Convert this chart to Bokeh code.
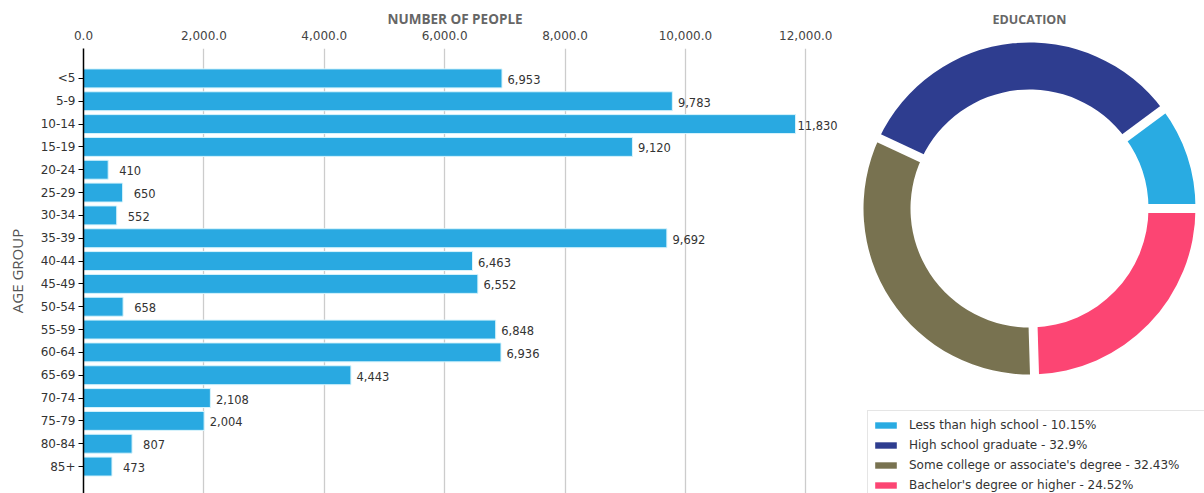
import numpy as np
from bokeh.plotting import figure
from bokeh.layouts import row, column
from bokeh.models import (ColumnDataSource, Range1d, FixedTicker, Legend, LegendItem, LinearAxis, Label)
from bokeh.core.properties import value
from bokeh.embed import file_html
from bokeh.resources import INLINE

# ---------------- data ----------------
age_groups = ["<5", "5-9", "10-14", "15-19", "20-24", "25-29", "30-34", "35-39", "40-44",
              "45-49", "50-54", "55-59", "60-64", "65-69", "70-74", "75-79", "80-84", "85+"]
people = [6953, 9783, 11830, 9120, 410, 650, 552, 9692, 6463,
          6552, 658, 6848, 6936, 4443, 2108, 2004, 807, 473]
x_ticks = [0, 2000, 4000, 6000, 8000, 10000, 12000]
x_tick_labels = ["0.0", "2,000.0", "4,000.0", "6,000.0", "8,000.0", "10,000.0", "12,000.0"]

edu_labels = ["Less than high school", "High school graduate",
              "Some college or associate's degree", "Bachelor's degree or higher"]
edu_pct = [10.15, 32.9, 32.43, 24.52]
edu_colors = ["#29ABE2", "#2E3D8F", "#787250", "#FC4573"]

BAR = "#29A9E1"
FONT = "DejaVu Sans"
TFONT = "Open Sans"

# ---------------- bar chart ----------------
idx = list(range(len(age_groups)))
src = ColumnDataSource(dict(y=idx, v=people, lab=[f"{v:,}" for v in people]))

p = figure(width=855, height=493, output_backend="svg", toolbar_location=None,
           x_range=Range1d(0, 12776), y_range=Range1d(18.18, -1.31),
           x_axis_location=None, y_axis_location=None,
           min_border_left=83, min_border_right=3, min_border_top=48, min_border_bottom=0)
p.outline_line_color = None
p.background_fill_color = "white"
p.title.text = "NUMBER OF PEOPLE"
p.title.align = "left"
p.title.offset = 304
p.title.standoff = -1
p.title.text_font = TFONT
p.title.text_font_size = "13.5px"
p.title.text_font_style = "bold"
p.title.text_color = "#666666"

top = LinearAxis(ticker=FixedTicker(ticks=x_ticks),
                 major_label_overrides={t: l for t, l in zip(x_ticks, x_tick_labels)})
top.major_label_text_font = FONT
top.major_label_text_font_size = "12px"
top.major_label_text_color = "#444444"
top.major_label_standoff = 3
top.axis_line_color = None
top.major_tick_line_color = None
top.minor_tick_line_color = None
p.add_layout(top, "above")

left = LinearAxis(ticker=FixedTicker(ticks=idx),
                  major_label_overrides={i: g for i, g in zip(idx, age_groups)})
left.axis_label = "AGE GROUP"
left.axis_label_text_font = TFONT
left.axis_label_text_font_size = "15px"
left.axis_label_text_font_style = "normal"
left.axis_label_text_color = "#555555"
left.axis_label_standoff = 11
left.major_label_text_font = FONT
left.major_label_text_font_size = "12px"
left.major_label_text_color = "#333333"
left.major_label_standoff = 3
left.axis_line_color = "black"
left.axis_line_width = 1.5
left.major_tick_line_color = "black"
left.major_tick_out = 5
left.major_tick_in = 0
left.minor_tick_line_color = None
p.add_layout(left, "left")

p.xgrid.ticker = FixedTicker(ticks=x_ticks)
p.xgrid.grid_line_color = "#cccccc"
p.xgrid.grid_line_width = 1.3
p.ygrid.grid_line_color = None

p.hbar(y="y", right="v", left=0, height=0.83, source=src,
       fill_color=BAR, line_color="#d8f4fc", line_width=1)
p.text(x="v", y="y", text="lab", source=src, x_offset=22, y_offset=1,
       text_align="center", text_baseline="middle",
       text_font=value(FONT), text_font_size="11.5px", text_color="#333333")

# ---------------- donut ----------------
R_OUT, R_IN = 166, 119
frac = np.array(edu_pct) / np.sum(edu_pct)
ends = np.cumsum(frac) * 2 * np.pi
starts = np.concatenate([[0.0], ends[:-1]])
dsrc = ColumnDataSource(dict(start=starts, end=ends, color=edu_colors,
                             label=[f"{l} - {v}%" for l, v in zip(edu_labels, edu_pct)]))

# full-height frame; 1 data unit = 1 px
q = figure(width=349, height=493, output_backend="svg", toolbar_location=None,
           title=None,
           x_range=Range1d(-174, 175), y_range=Range1d(-285, 208),
           x_axis_location=None, y_axis_location=None,
           min_border=0)
q.outline_line_color = None
q.xgrid.grid_line_color = None
q.ygrid.grid_line_color = None

wr = q.annular_wedge(x=0, y=0, inner_radius=R_IN, outer_radius=R_OUT,
                     start_angle="start", end_angle="end", direction="anticlock",
                     fill_color="color", line_color=None, source=dsrc)
q.segment(x0=0, y0=0, x1=(R_OUT + 6) * np.cos(starts), y1=(R_OUT + 6) * np.sin(starts),
          line_color="white", line_width=9)

q.add_layout(Label(x=0, y=189, text="EDUCATION", text_align="center",
                   text_baseline="middle", text_font=TFONT, text_font_size="12.5px",
                   text_font_style="bold", text_color="#666666"))

items = [LegendItem(label=dsrc.data["label"][i], renderers=[wr], index=i) for i in range(4)]
leg = Legend(items=items, location=(12, -7), orientation="vertical",
             label_text_font=FONT, label_text_font_size="12px", label_text_color="#333333",
             glyph_width=27, glyph_height=8, label_height=20, label_width=300,
             label_standoff=10, spacing=0, padding=4, margin=0,
             border_line_color="#cccccc", border_line_width=1,
             background_fill_color="white", background_fill_alpha=1)
q.add_layout(leg, "center")

layout = row(column(p), column(q))
open("out.html", "w").write(file_html(layout, INLINE))
